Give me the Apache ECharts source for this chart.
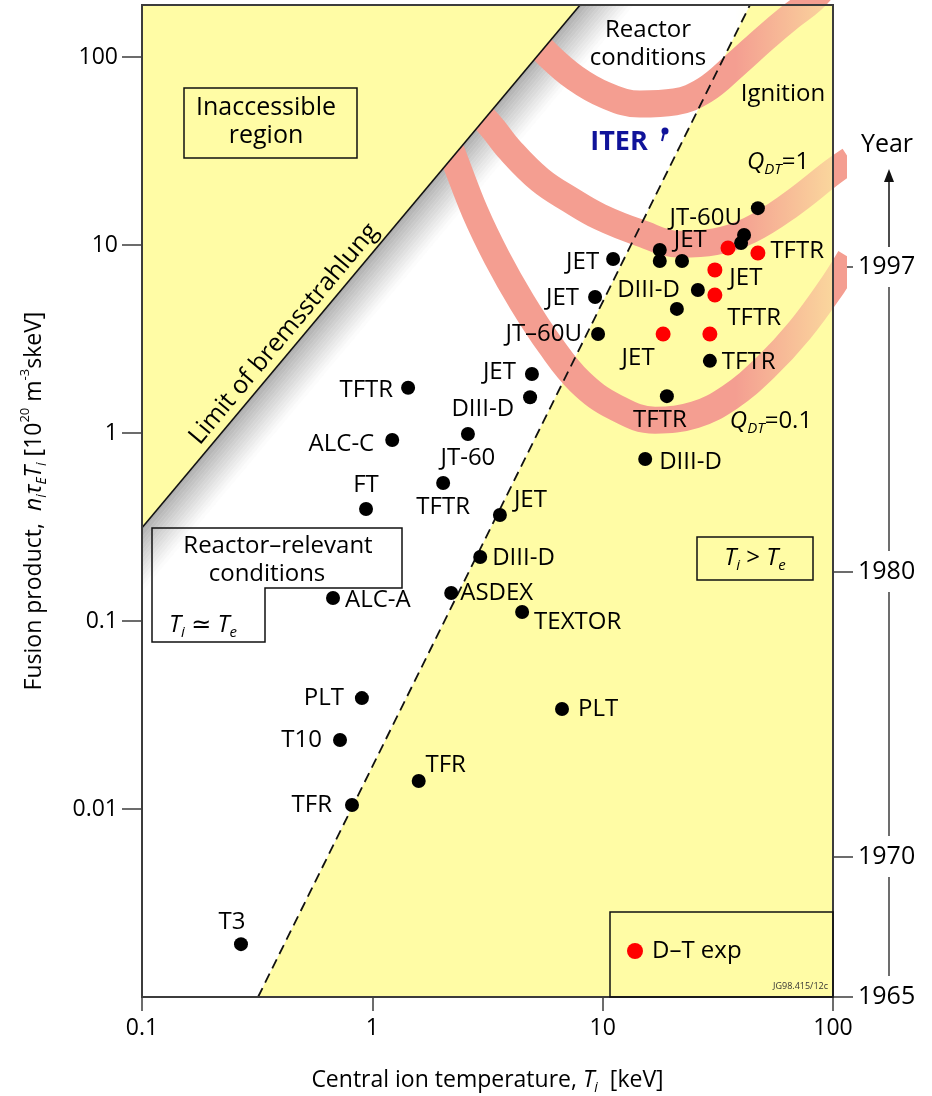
<!DOCTYPE html>
<html><head><meta charset="utf-8">
<script src="https://cdn.jsdelivr.net/npm/echarts@6/dist/echarts.min.js"></script>
<style>html,body{margin:0;padding:0;background:#fff}#c{width:932px;height:1096px}</style>
</head><body><div id="c"></div>
<script>
// ---------------- data ----------------
const xTickValues = [0.1, 1, 10, 100];
const xTickLabels = ['0.1', '1', '10', '100'];
const yTickValues = [0.01, 0.1, 1, 10, 100];
const yTickLabels = ['0.01', '0.1', '1', '10', '100'];
const yearLabels = ['1965', '1970', '1980', '1997'];
const yearFusionLevel = [0.001, 0.00556, 0.182, 7.64];

const xRange = [0.1, 100];
const yRange = [0.001, 189];

// tokamak results (black)
const machineNames = ['T3','TFR','T10','PLT','TFR','PLT','ALC-A','ASDEX','TEXTOR','DIII-D','JET','FT','TFTR','JT-60','ALC-C','TFTR','DIII-D','JET','JT\u201360U','JET','JET','DIII-D','TFTR','TFTR','','DIII-D','JET','','','','','JT-60U'];
const machineTemp = [0.269,0.816,0.724,0.901,1.59,6.66,0.675,2.20,4.47,2.94,3.58,0.939,2.03,2.60,1.22,1.43,4.84,4.93,9.55,9.27,11.1,15.3,19.0,29.2,21.0,25.9,17.7,17.7,22.1,41.1,39.9,47.2];
const machineFusion = [0.00191,0.0105,0.0233,0.0389,0.0141,0.0340,0.1325,0.141,0.1117,0.219,0.366,0.394,0.542,0.988,0.918,1.74,1.55,2.06,3.36,5.29,8.43,0.727,1.57,2.42,4.57,5.76,9.41,8.22,8.22,11.3,10.25,15.7];

// D-T experiments (red)
const dtNames = ['JET','','TFTR','JET','','TFTR'];
const dtTemp = [18.3,29.2,30.7,30.7,35.0,47.2];
const dtFusion = [3.36,3.36,5.42,7.37,9.64,9.07];

// bands
const ignitionT  = [4.38,5.79,7.59,10.24,14.5,20.6,27.8,37.6,50.7,65.1,81.1,97.0];
const ignitionNT = [148,102.5,77.3,62.8,56.2,57.7,66.7,90.7,126,163,201,257];
const qdt1T  = [2.65,3.24,3.96,5.35,7.22,9.74,14.5,21.7,30.7,43.6,65.1,100,118.5];
const qdt1NT = [55.5,43.5,32.0,22.2,17.4,14.1,11.6,10.1,10.4,12.0,16.3,24.5,28.3];
const qdt01T  = [1.97,2.28,2.79,3.48,4.46,5.91,7.97,11.3,16.9,25.2,35.7,50.7,71.9,100,118.5];
const qdt01NT = [45.1,28.3,15.0,8.53,4.98,2.94,1.87,1.375,1.17,1.25,1.55,2.22,3.53,6.13,8.53];

// boundary lines
const bremLimitT = [0.1, 7.98];
const bremLimitNT = [0.313, 189];
const tiTeBoundaryT = [0.319, 43.6];
const tiTeBoundaryNT = [0.001, 189];

// ---------------- layout / style ----------------
const FONT = "'Open Sans', 'DejaVu Sans', sans-serif";
const YELLOW = '#FFFCA5';
const PINK = '#F49E91';
const INK = '#000';
const FRAME = '#3c3c3c';
const LBL = 24;

const machinePlacement = [['top',-9,2],['left',-8,0],['left',-6,0],['left',-6,0],['top',27,8],['right',4,0],['right',0,2],['right',-3,0],['right',0,10],['right',0,1],['right',2,-15],['top',0,0],['bottom',0,0],['bottom',0,0],['left',-6,4],['left',-3,2],['left',-4,12],['left',-4,-2],['left',-4,0],['left',-4,1],['left',-2,3],['right',2,3],['bottom',-7,0],['right',0,1],null,['left',-6,0],['right',2,-10],null,null,null,null,['left',-4,10]];
const dtPlacement = [['bottom',-25,0],null,['right',0,23],['right',2,8],null,['right',0,-2]];

function pointData(names, xs, ys, place) {
  return xs.map((x, i) => {
    const p = place[i];
    const item = { name: names[i], value: [x, ys[i]] };
    if (p && names[i]) item.label = { show: true, position: p[0], offset: [p[1], p[2]] };
    else item.label = { show: false };
    return item;
  });
}
function lineData(xs, ys) { return xs.map((x, i) => [x, ys[i]]); }

function polygonSeries(name, verts, z, styleFn) {
  return {
    type: 'custom', name, z, silent: true, animation: false,
    coordinateSystem: 'cartesian2d', xAxisIndex: 0, yAxisIndex: 0,
    data: [[1, 1]],
    renderItem: (params, api) => {
      const pts = verts.map(v => api.coord(v));
      return { type: 'polygon', shape: { points: pts }, style: styleFn(pts) };
    }
  };
}
function bandSeries(name, xs, ys) {
  return {
    type: 'line', name, z: 3, silent: true, animation: false, clip: true,
    data: lineData(xs, ys), symbol: 'none', smooth: 0.4,
    lineStyle: { width: 27, color: PINK, cap: 'butt' }
  };
}

const tiTeRegion = [[tiTeBoundaryT[0], tiTeBoundaryNT[0]], [tiTeBoundaryT[1], tiTeBoundaryNT[1]], [xRange[1], yRange[1]], [xRange[1], yRange[0]]];
const inaccessibleRegion = [[bremLimitT[0], bremLimitNT[0]], [bremLimitT[1], bremLimitNT[1]], [xRange[0], yRange[1]]];
const fadeRegion = [[37.6, yRange[0]], [37.6, yRange[1]], [xRange[1], yRange[1]], [xRange[1], yRange[0]]];
const frameRegion = [[xRange[0], yRange[1]], [xRange[1], yRange[1]], [xRange[1], yRange[0]], [xRange[0], yRange[0]]];

// shading strips parallel to the bremsstrahlung limit
const bremSlope = Math.log10(bremLimitNT[1] / bremLimitNT[0]) / Math.log10(bremLimitT[1] / bremLimitT[0]);
const glowSteps = 14, glowShiftMax = 1.7;
function glowEdge(k) {
  const s = Math.pow(glowShiftMax, k / glowSteps);
  return [[xRange[0], bremLimitNT[0] / Math.pow(s, bremSlope)], [bremLimitT[1] * s, bremLimitNT[1]]];
}
const glowSeries = {
  type: 'custom', name: 'bremsstrahlung shading', z: 2, silent: true, animation: false,
  coordinateSystem: 'cartesian2d', data: [[1, 1]],
  renderItem: (params, api) => {
    const children = [];
    for (let k = 0; k < glowSteps; k++) {
      const a = glowEdge(k), b = glowEdge(k + 1);
      const t = (k + 0.5) / glowSteps;
      const g = Math.round(172 + (255 - 172) * Math.pow(t, 0.9));
      children.push({ type: 'polygon', shape: { points: [a[0], a[1], b[1], b[0]].map(v => api.coord(v)) },
        style: { fill: 'rgb(' + g + ',' + g + ',' + g + ')', stroke: 'rgb(' + g + ',' + g + ',' + g + ')', lineWidth: 0.6 } });
    }
    return { type: 'group', children };
  }
};

const richCommon = {
  i: { fontStyle: 'italic', fontSize: 23, lineHeight: 30, fontFamily: FONT, color: INK },
  sub: { fontStyle: 'italic', fontSize: 14, lineHeight: 12, verticalAlign: 'bottom', fontFamily: FONT, color: INK },
  sup: { fontSize: 13, lineHeight: 12, verticalAlign: 'top', fontFamily: FONT, color: INK }
};

const option = {
  backgroundColor: '#fff',
  animation: false,
  textStyle: { fontFamily: FONT },
  grid: { left: 142, right: 99, top: 5, bottom: 99, containLabel: false, outerBoundsMode: 'none', show: false },
  xAxis: {
    type: 'log', logBase: 10, min: xRange[0], max: xRange[1],
    name: 'Central ion temperature, {i|T}{sub|i}  [keV]',
    nameLocation: 'middle', nameGap: 68,
    nameTextStyle: { fontSize: 23, color: INK, fontFamily: FONT, lineHeight: 30, rich: richCommon },
    axisLine: { show: false },
    axisTick: { show: true, length: 14, customValues: xTickValues, lineStyle: { color: FRAME, width: 1.5 } },
    axisLabel: { customValues: xTickValues, fontSize: 23, color: INK, margin: 20,
      formatter: v => xTickLabels[xTickValues.findIndex(t => Math.abs(Math.log10(t) - Math.log10(v)) < 1e-6)] || '' },
    splitLine: { show: false }, minorTick: { show: false }
  },
  yAxis: [{
    type: 'log', logBase: 10, min: yRange[0], max: yRange[1],
    name: 'Fusion product,  {i|n}{sub|i}{i|\u03c4}{sub|E}{i|T}{sub|i} [10{sup|20} m{sup|-3}skeV]',
    nameLocation: 'middle', nameGap: 93,
    nameTextStyle: { fontSize: 23, color: INK, fontFamily: FONT, lineHeight: 30, rich: richCommon },
    axisLine: { show: false },
    axisTick: { show: true, length: 20, customValues: yTickValues, lineStyle: { color: FRAME, width: 1.5 } },
    axisLabel: { customValues: yTickValues, fontSize: 23, color: INK, margin: 24,
      formatter: v => yTickLabels[yTickValues.findIndex(t => Math.abs(Math.log10(t) - Math.log10(v)) < 1e-6)] || '' },
    splitLine: { show: false }, minorTick: { show: false }
  }, {
    type: 'log', logBase: 10, min: yRange[0], max: yRange[1], position: 'right',
    axisLine: { show: false },
    axisTick: { show: true, length: 20, customValues: yearFusionLevel, lineStyle: { color: FRAME, width: 1.5 } },
    axisLabel: { customValues: yearFusionLevel, fontSize: 25, color: INK, margin: 25,
      formatter: v => {
        let best = 0, bd = 1e9;
        yearFusionLevel.forEach((t, i) => { const d = Math.abs(Math.log10(t) - Math.log10(v)); if (d < bd) { bd = d; best = i; } });
        return yearLabels[best];
      } },
    splitLine: { show: false }, minorTick: { show: false }
  }],
  series: [
    polygonSeries('Ti > Te region', tiTeRegion, 1, () => ({ fill: YELLOW })),
    glowSeries,
    bandSeries('Ignition', ignitionT, ignitionNT),
    bandSeries('Q_DT = 1', qdt1T, qdt1NT),
    bandSeries('Q_DT = 0.1', qdt01T, qdt01NT),
    polygonSeries('edge fade', fadeRegion, 4, pts => ({
      fill: new echarts.graphic.LinearGradient(pts[0][0], 0, pts[2][0], 0,
        [{ offset: 0, color: 'rgba(255,252,165,0)' }, { offset: 1, color: 'rgba(255,252,165,0.6)' }], true) })),
    polygonSeries('Inaccessible region', inaccessibleRegion, 5, () => ({ fill: YELLOW })),
    { type: 'line', name: 'Limit of bremsstrahlung', z: 6, silent: true, symbol: 'none', data: lineData(bremLimitT, bremLimitNT),
      lineStyle: { color: '#111', width: 1.6 } },
    { type: 'line', name: 'Ti = Te', z: 6, silent: true, symbol: 'none', data: lineData(tiTeBoundaryT, tiTeBoundaryNT),
      lineStyle: { color: '#111', width: 1.8, type: [10, 6] } },
    { type: 'scatter', name: 'Experiments', z: 8, silent: true, symbol: 'circle', symbolSize: 14,
      itemStyle: { color: '#000', opacity: 1 },
      label: { show: true, formatter: p => p.name, fontSize: LBL, color: INK, fontFamily: FONT, distance: 5, opacity: 1 },
      data: pointData(machineNames, machineTemp, machineFusion, machinePlacement) },
    { type: 'scatter', name: 'D\u2013T exp', z: 8, silent: true, symbol: 'circle', symbolSize: 15,
      itemStyle: { color: '#ff0000', opacity: 1 },
      label: { show: true, formatter: p => p.name, fontSize: LBL, color: INK, fontFamily: FONT, distance: 5, opacity: 1 },
      data: pointData(dtNames, dtTemp, dtFusion, dtPlacement) },
    polygonSeries('frame', frameRegion, 9, () => ({ fill: 'none', stroke: FRAME, lineWidth: 2 }))
  ]
};

const chart = echarts.init(document.getElementById('c'), null, { renderer: 'canvas' });
chart.setOption(option);

// ---------------- annotations ----------------
function T(x, y, text, o) {
  o = o || {};
  return {
    type: 'text', x, y, rotation: o.rotation || 0, z: 100, silent: true,
    style: {
      x: 0, y: 0, text, fill: o.fill || INK, fontSize: o.fontSize || 24, fontFamily: FONT,
      fontWeight: o.fontWeight || 'normal', fontStyle: o.fontStyle || 'normal',
      align: o.align || 'center', verticalAlign: 'middle', textAlign: o.align || 'center', textVerticalAlign: 'middle',
      lineHeight: o.lineHeight || 28, rich: o.rich
    }
  };
}
const richG = {
  i: { fontStyle: 'italic', fontSize: 24, lineHeight: 30, fontFamily: FONT, fill: INK },
  sub: { fontStyle: 'italic', fontSize: 15, lineHeight: 12, verticalAlign: 'bottom', fontFamily: FONT, fill: INK },
  n: { fontSize: 24, lineHeight: 30, fontFamily: FONT, fill: INK }
};
const els = [];
els.push({ type: 'rect', z: 99, silent: true, shape: { x: 184, y: 88, width: 173, height: 70 }, style: { fill: YELLOW, stroke: '#111', lineWidth: 1.5 } });
els.push(T(266, 122, 'Inaccessible\nregion', { fontSize: 25 }));
els.push(T(284, 334, 'Limit of bremsstrahlung', { rotation: 0.8736, fontSize: 25 }));
els.push(T(648, 44, 'Reactor\nconditions'));
els.push(T(783, 94, 'Ignition'));
els.push(T(619, 142, 'ITER', { fill: '#10139a', fontWeight: 'bold', fontSize: 27 }));
els.push({ type: 'circle', z: 100, silent: true, shape: { cx: 665, cy: 131, r: 3.5 }, style: { fill: '#10139a' } });
els.push({ type: 'line', z: 100, silent: true, shape: { x1: 664, y1: 133, x2: 662, y2: 141 }, style: { stroke: '#10139a', lineWidth: 2 } });
els.push(T(778, 162, '{i|Q}{sub|DT}{n|=1}', { rich: richG }));
els.push(T(771, 421, '{i|Q}{sub|DT}{n|=0.1}', { rich: richG }));
els.push({ type: 'polygon', z: 99, silent: true, shape: { points: [[152,528],[402,528],[402,588],[265,588],[265,642],[152,642]] }, style: { fill: 'none', stroke: '#111', lineWidth: 1.5 } });
els.push(T(278, 546, 'Reactor\u2013relevant'));
els.push(T(267, 574, 'conditions'));
els.push(T(203, 625, '{i|T}{sub|i}{n| \u2243 }{i|T}{sub|e}', { rich: richG }));
els.push({ type: 'rect', z: 99, silent: true, shape: { x: 697, y: 537, width: 116, height: 43 }, style: { fill: 'none', stroke: '#111', lineWidth: 1.5 } });
els.push(T(755, 558, '{i|T}{sub|i}{n| > }{i|T}{sub|e}', { rich: richG }));
els.push({ type: 'rect', z: 99, silent: true, shape: { x: 610, y: 912, width: 223, height: 85 }, style: { fill: 'none', stroke: '#111', lineWidth: 1.5 } });
els.push({ type: 'circle', z: 100, silent: true, shape: { cx: 635, cy: 951, r: 8 }, style: { fill: '#ff0000' } });
els.push(T(652, 951, 'D\u2013T exp', { align: 'left' }));
els.push(T(828, 986, 'JG98.415/12c', { align: 'right', fontSize: 9, fill: '#333', lineHeight: 10 }));

// year axis connector + arrow (positions derived from the axes)
const xRightPx = chart.convertToPixel({ xAxisIndex: 0 }, xRange[1]);
const yearPx = yearFusionLevel.map(v => chart.convertToPixel({ yAxisIndex: 1 }, v));
const yx = xRightPx + 56;
for (let i = 0; i < yearPx.length - 1; i++) {
  els.push({ type: 'line', z: 100, silent: true, shape: { x1: yx, y1: yearPx[i] - 21, x2: yx, y2: yearPx[i + 1] + 20 }, style: { stroke: FRAME, lineWidth: 1.5 } });
}
const topY = yearPx[yearPx.length - 1];
els.push({ type: 'line', z: 100, silent: true, shape: { x1: yx, y1: topY - 20, x2: yx, y2: topY - 88 }, style: { stroke: '#111', lineWidth: 1.5 } });
els.push({ type: 'polygon', z: 100, silent: true, shape: { points: [[yx, topY - 98], [yx - 5, topY - 85], [yx + 5, topY - 85]] }, style: { fill: '#111' } });
els.push(T(yx - 2, topY - 122, 'Year', { fontSize: 25 }));

chart.setOption({ graphic: { elements: els } });
</script></body></html>
